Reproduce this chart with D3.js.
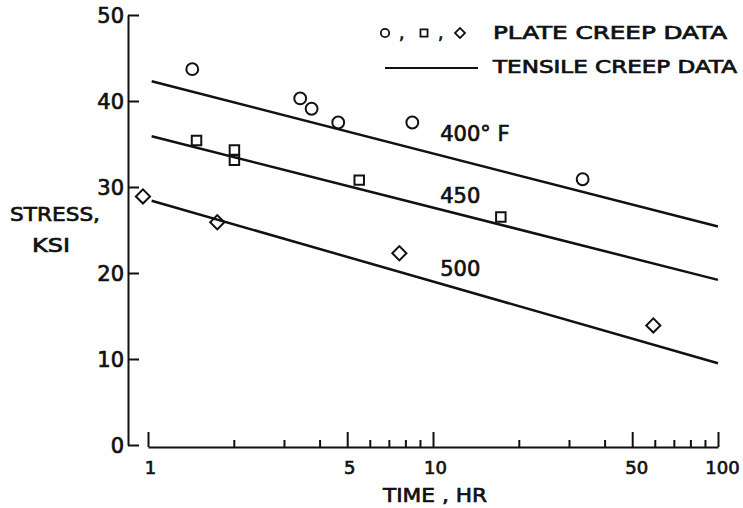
<!DOCTYPE html>
<html>
<head>
<meta charset="utf-8">
<script src="https://cdn.jsdelivr.net/npm/d3@7"></script>
<style>
  body { margin: 0; background: #fff; }
  svg { display: block; }
  text { font-family: "DejaVu Sans", sans-serif; fill: #111; stroke: #111; stroke-width: 0.7px; }
  .axis path, .axis line { stroke: #111; stroke-width: 2px; }
</style>
</head>
<body>
<div id="chart"></div>
<script>
    // plate creep data: [time hr, stress ksi]
    var circles400 = [[1.43, 43.7], [3.42, 40.3], [3.75, 39.1], [4.65, 37.5], [8.46, 37.5], [33.5, 30.9]];
    var squares450 = [[1.48, 35.4], [2.01, 34.3], [2.01, 33.1], [5.51, 30.8], [17.3, 26.5]];
    var diamonds500 = [[0.96, 28.9], [1.75, 25.9], [7.62, 22.3], [59.3, 13.9]];

    // tensile creep lines, end points [time, stress]
    var tensile400 = [[1.03, 42.3], [100, 25.4]];
    var tensile450 = [[1.03, 35.9], [100, 19.2]];
    var tensile500 = [[1.03, 28.4], [100, 9.5]];

    var lineLabels = ["400° F", "450", "500"];
    var labelStress = [35.3, 28.1, 19.6];
    var labelTime = 10.6;

    var yTicks = [0, 10, 20, 30, 40, 50];
    var xMajor = [1, 5, 10, 50, 100];
    var xMinor = [2, 3, 4, 6, 7, 8, 9, 20, 30, 40, 60, 70, 80, 90];

    var width = 743, height = 508;

    var x = d3.scaleLog().domain([1, 100]).range([148, 718]);
    var y = d3.scaleLinear().domain([0, 50]).range([445, 15]);

    var svg = d3.select("#chart").append("svg")
        .attr("width", width)
        .attr("height", height);

    // stretch text to the wide lettering of the original
    function wide(sel, len) {
        return sel.attr("textLength", len).attr("lengthAdjust", "spacingAndGlyphs");
    }

    // ---------- axes ------------
    var yAxis = svg.append("g")
        .attr("class", "axis")
        .attr("transform", "translate(128,0)")
        .call(d3.axisLeft(y).tickValues(yTicks).tickSize(-11).tickSizeOuter(0).tickPadding(4));
    yAxis.selectAll("text")
        .style("font-size", "21px")
        .attr("dy", "0.36em");

    var xAxisY = 447;
    var xAxis = svg.append("g")
        .attr("class", "axis")
        .attr("transform", "translate(0," + xAxisY + ")")
        .call(d3.axisBottom(x).tickValues(xMajor).tickSize(-15).tickSizeOuter(0).tickPadding(14)
            .tickFormat(d3.format("d")));
    xAxis.selectAll("text")
        .style("font-size", "18px")
        .attr("dx", function (d) { return d >= 50 ? 4 : 2; });

    svg.append("g")
        .attr("class", "axis")
        .attr("transform", "translate(0," + xAxisY + ")")
        .call(d3.axisBottom(x).tickValues(xMinor).tickSize(-7).tickFormat(""))
        .select(".domain").remove();

    wide(svg.append("text")
        .attr("x", 383)
        .attr("y", 502)
        .style("font-size", "20px")
        .text("TIME , HR"), 104);

    wide(svg.append("text")
        .attr("x", 10)
        .attr("y", 221)
        .style("font-size", "20px")
        .text("STRESS,"), 90);
    wide(svg.append("text")
        .attr("x", 32)
        .attr("y", 252)
        .style("font-size", "20px")
        .text("KSI"), 38);

    // ---------- tensile lines ------------
    var line = d3.line()
        .x(function (d) { return x(d[0]); })
        .y(function (d) { return y(d[1]); });

    svg.append("g").selectAll("path")
        .data([tensile400, tensile450, tensile500])
        .enter().append("path")
        .attr("d", line)
        .attr("fill", "none")
        .attr("stroke", "#111")
        .attr("stroke-width", 2.5);

    svg.append("g").selectAll("text")
        .data(lineLabels)
        .enter().append("text")
        .attr("x", x(labelTime))
        .attr("y", function (d, i) { return y(labelStress[i]); })
        .style("font-size", "21px")
        .text(function (d) { return d; });

    // ---------- plate creep markers ------------
    function drawPoints(pts, type, size, rot) {
        svg.append("g").selectAll("path")
            .data(pts)
            .enter().append("path")
            .attr("transform", function (d) {
                return "translate(" + x(d[0]) + "," + y(d[1]) + ") rotate(" + (rot || 0) + ")";
            })
            .attr("d", d3.symbol().type(type).size(size))
            .attr("fill", "none")
            .attr("stroke", "#111")
            .attr("stroke-width", 2);
    }
    drawPoints(circles400, d3.symbolCircle, 110);
    drawPoints(squares450, d3.symbolSquare, 90);
    drawPoints(diamonds500, d3.symbolSquare, 100, 45);

    // ---------- legend ------------
    var legend = svg.append("g");
    var legendSyms = [[385, d3.symbolCircle, 55, 0], [424, d3.symbolSquare, 50, 0], [460, d3.symbolSquare, 50, 45]];
    legendSyms.forEach(function (s) {
        legend.append("path")
            .attr("transform", "translate(" + s[0] + ",33) rotate(" + s[3] + ")")
            .attr("d", d3.symbol().type(s[1]).size(s[2]))
            .attr("fill", "none")
            .attr("stroke", "#111")
            .attr("stroke-width", 1.8);
    });
    [399, 438].forEach(function (cx) {
        legend.append("text").attr("x", cx).attr("y", 39).style("font-size", "17px").text(",");
    });
    wide(legend.append("text")
        .attr("x", 493).attr("y", 39)
        .style("font-size", "17px")
        .text("PLATE CREEP DATA"), 234);
    legend.append("line")
        .attr("x1", 385).attr("x2", 478)
        .attr("y1", 68).attr("y2", 68)
        .attr("stroke", "#111")
        .attr("stroke-width", 2);
    wide(legend.append("text")
        .attr("x", 493).attr("y", 73)
        .style("font-size", "17px")
        .text("TENSILE CREEP DATA"), 244);
</script>
</body>
</html>
